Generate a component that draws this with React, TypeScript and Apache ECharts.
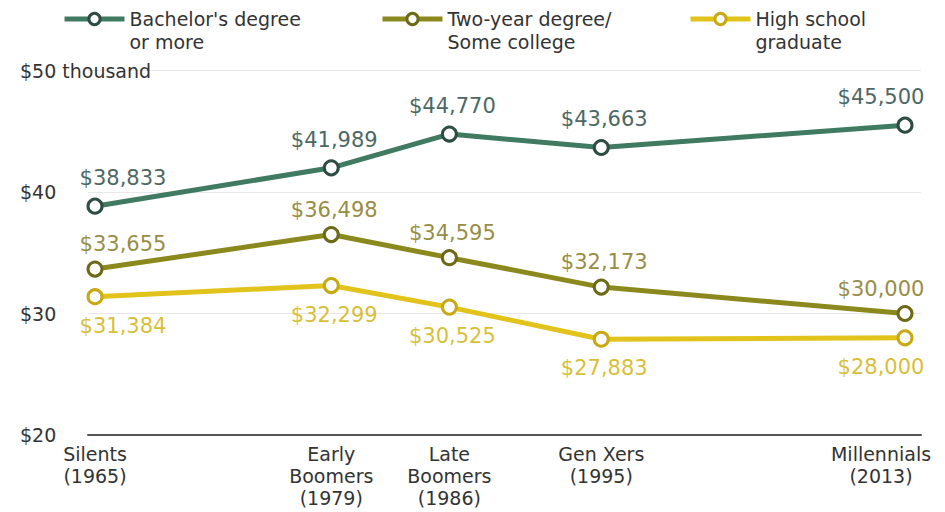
import React, { useEffect, useRef } from "react";
import * as echarts from "echarts";

const years = [1965, 1979, 1986, 1995, 2013];
const generations = ["Silents", "Early\nBoomers", "Late\nBoomers", "Gen Xers", "Millennials"];
const bachelors = [38833, 41989, 44770, 43663, 45500];
const twoYear = [33655, 36498, 34595, 32173, 30000];
const highSchool = [31384, 32299, 30525, 27883, 28000];
const seriesNames = ["Bachelor's degree\nor more", "Two-year degree/\nSome college", "High school\ngraduate"];

const FONT = "'DejaVu Sans', sans-serif";

const styles = [
  { line: "#3f7a61", border: "#2d4d43", label: "#4d6864", pos: "top", dist: 9 },
  { line: "#8b891d", border: "#6d6a17", label: "#978e46", pos: "top", dist: 6 },
  { line: "#e2c31c", border: "#c9a912", label: "#d8bf38", pos: "bottom", dist: 10 },
];
const legendLeft = [57, 375, 683];

function fmt(v: number) {
  return "$" + v.toLocaleString("en-US");
}

export default function App() {
  const ref = useRef<HTMLDivElement>(null);
  useEffect(() => {
    if (!ref.current) return;
    const chart = echarts.init(ref.current, undefined, { renderer: "svg" });
    const allSeries = [bachelors, twoYear, highSchool];
    const last = years.length - 1;
    chart.setOption({
      animation: false,
      backgroundColor: "#fff",
      textStyle: { fontFamily: FONT },
      grid: { left: 88, right: 24, top: 70.5, bottom: 77, outerBoundsMode: "none", containLabel: false },
      legend: seriesNames.map((n, i) => ({
        data: [n],
        left: legendLeft[i],
        top: -14,
        itemWidth: 60,
        itemHeight: 14,
        itemGap: 0,
        selectedMode: false,
        lineStyle: { width: 5 },
        itemStyle: { borderWidth: 3 },
        formatter: (name: string) =>
          "{s| }\n" + name.split("\n").map((l) => "{a|" + l + "}").join("\n"),
        textStyle: {
          fontFamily: FONT,
          fontSize: 19,
          color: "#333",
          rich: {
            s: { fontSize: 10, lineHeight: 23 },
            a: { fontFamily: FONT, fontSize: 19, lineHeight: 23, color: "#333" },
          },
        },
      })),
      xAxis: {
        type: "value",
        min: 1964.585,
        max: 2013.948,
        splitLine: { show: false },
        axisTick: { show: false },
        axisLine: { show: true, lineStyle: { color: "#555", width: 2 } },
        axisLabel: {
          customValues: years,
          margin: 8,
          formatter: (v: number) => {
            const i = years.indexOf(Math.round(v));
            if (i < 0) return "";
            const key = i === last ? "m" : "c";
            const lines = (generations[i] + "\n(" + years[i] + ")").split("\n");
            return lines.map((l) => "{" + key + "|" + l + "}").join("\n");
          },
          rich: {
            c: { fontFamily: FONT, fontSize: 19, lineHeight: 22, color: "#333" },
            m: { fontFamily: FONT, fontSize: 19, lineHeight: 22, color: "#333", padding: [0, 48, 0, 0] },
          },
        },
      },
      yAxis: {
        type: "value",
        min: 20000,
        max: 50000,
        interval: 10000,
        axisLine: { show: false },
        axisTick: { show: false },
        splitLine: { lineStyle: { color: "#e8e8e8", width: 1 } },
        axisLabel: {
          align: "left",
          margin: 68,
          fontFamily: FONT,
          fontSize: 19,
          color: "#333",
          formatter: (v: number) => (v === 50000 ? "$50 thousand" : "$" + v / 1000),
        },
      },
      series: allSeries.map((vals, si) => {
        const st = styles[si];
        return {
          name: seriesNames[si],
          type: "line",
          color: st.line,
          symbol: "circle",
          symbolSize: 14,
          lineStyle: { width: 5, color: st.line },
          itemStyle: { color: "#fff", borderColor: st.border, borderWidth: 3 },
          emphasis: { disabled: true },
          data: vals.map((v, i) => ({
            value: [years[i], v],
            label: {
              offset: [i === 0 ? 28 : i === last ? -24 : 3, 0],
            },
          })),
          label: {
            show: true,
            position: st.pos,
            distance: st.dist,
            fontFamily: FONT,
            fontSize: 21,
            color: st.label,
            formatter: (p: any) => fmt(p.value[1]),
          },
          z: 3 + (2 - si),
        };
      }),
    });
    return () => chart.dispose();
  }, []);
  return (
    <div
      ref={ref}
      style={{ position: "absolute", left: 0, top: 0, width: 945, height: 512 }}
    />
  );
}
